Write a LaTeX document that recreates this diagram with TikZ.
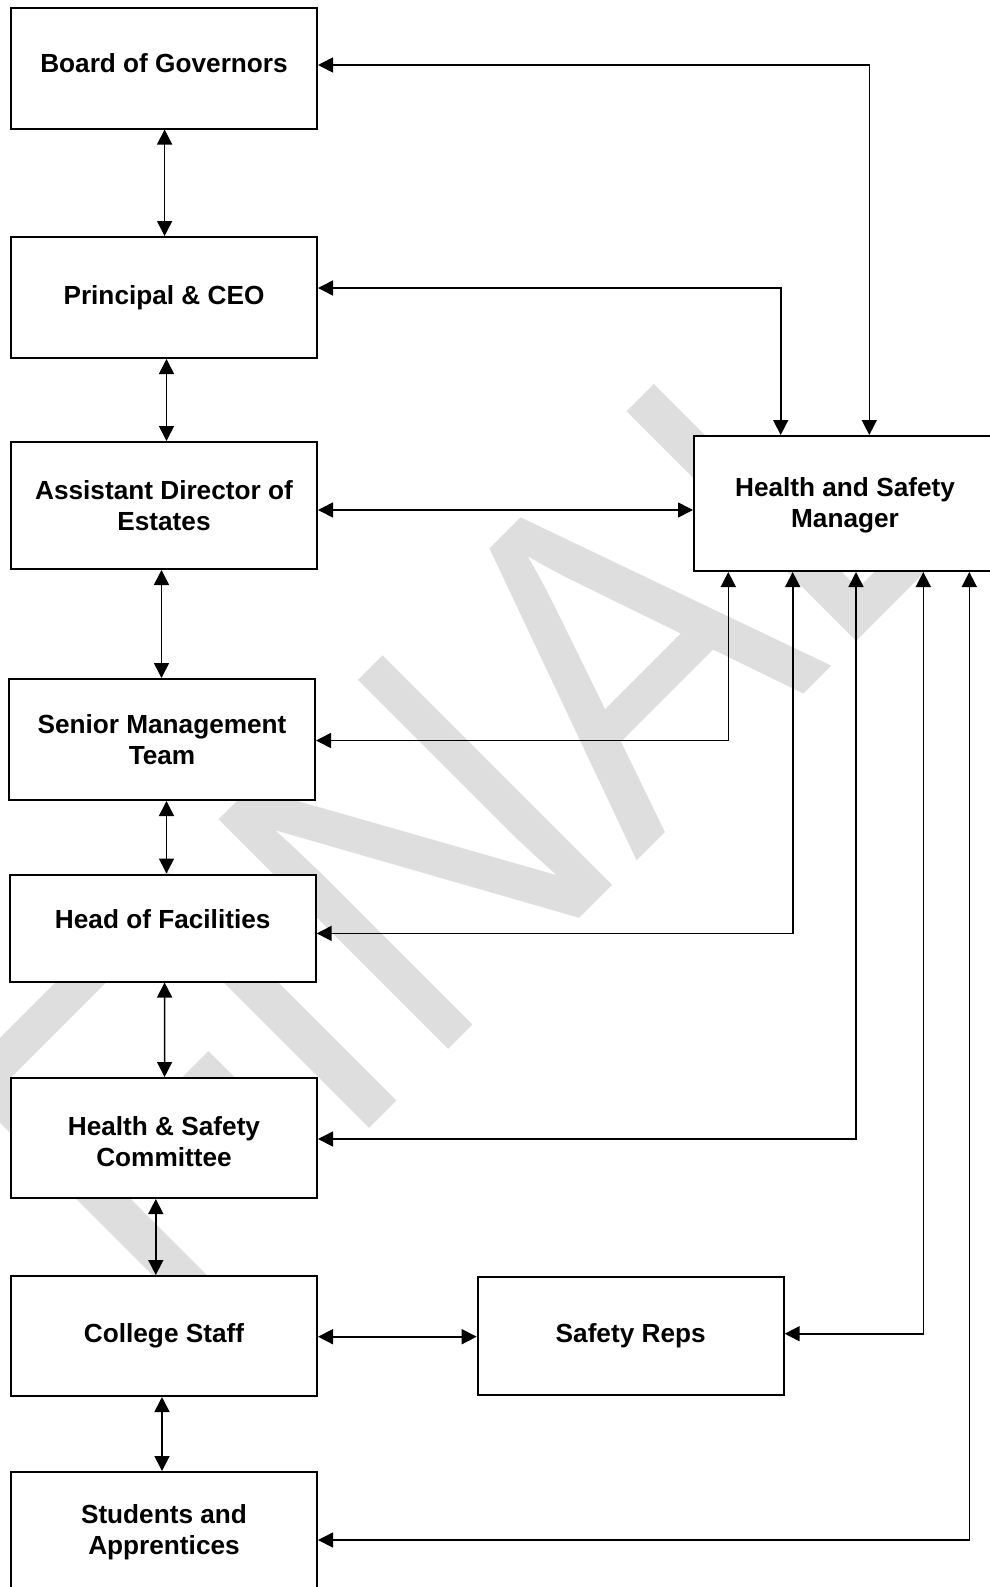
\documentclass[tikz,border=0pt]{standalone}
\usepackage{fontspec}
\setmainfont{Liberation Sans}
\usetikzlibrary{arrows.meta}
\definecolor{wmgray}{RGB}{222,222,222}
\begin{document}
\begin{tikzpicture}[x=1pt,y=-1pt,
  txt/.style={inner sep=0pt, align=center, font=\bfseries\fontsize{26.2}{30.5}\selectfont},
  box/.style={draw=black, line width=2pt, fill=white, rectangle,
    minimum width=306pt, minimum height=120pt, inner sep=2pt, align=center,
    font=\bfseries\fontsize{26.2}{30.5}\selectfont},
  link/.style={line width=1.6pt,
    {Triangle[length=15pt,width=15pt]}-{Triangle[length=15pt,width=15pt]}},
  wm/.style={text=wmgray, anchor=base west, inner sep=0pt, rotate=45, xscale=0.88,
    font=\fontsize{472}{480}\selectfont}]
\useasboundingbox (0,0) rectangle (989,1587);
\fill[white] (0,0) rectangle (989,1587);
% watermark
\node[wm] (wmark) at (163,1335) {FINAL};
% boxes
\node[box] (bog) at (164,68.5) {\raisebox{11pt}{Board of Governors}};
\node[box, minimum height=121pt] (pceo) at (164,297.5) {Principal \& CEO};
\node[box, minimum height=127pt] (ade) at (164,505.5) {Assistant Director of\\Estates};
\node[box, minimum width=302pt, minimum height=135pt,
  label={[txt,yshift=-2pt]center:{Health and Safety\\Manager}}] (hsm) at (845,503.5) {};
\node[box, minimum height=121pt] (smt) at (162,739.5) {Senior Management\\Team};
\node[box, minimum height=107pt] (hof) at (162.7,928) {\raisebox{18pt}{Head of Facilities}};
\node[box, label={[txt,yshift=-3.5pt]center:{Health \& Safety\\Committee}}] (hsc) at (164,1138) {};
\node[box] (cs) at (164,1336) {College Staff};
\node[box, minimum height=118pt] (sr) at (630.7,1336) {\raisebox{-6pt}{Safety Reps}};
\node[box, minimum height=130pt,
  label={[txt,yshift=5pt]center:{Students and\\Apprentices}}] (sa) at (164,1537) {};
% vertical chain
\draw[link] ([xshift=0.6pt]bog.south) -- ([xshift=0.6pt]pceo.north);
\draw[link] ([xshift=2.5pt]pceo.south) -- ([xshift=2.5pt]ade.north);
\draw[link] ([xshift=-2.5pt]ade.south) -- ([xshift=-0.5pt]smt.north);
\draw[link] ([xshift=4.5pt]smt.south) -- ([xshift=3.8pt]hof.north);
\draw[link] ([xshift=1.9pt]hof.south) -- ([xshift=0.6pt]hsc.north);
\draw[link] ([xshift=-8.2pt]hsc.south) -- ([xshift=-8.2pt]cs.north);
\draw[link] ([xshift=-2pt]cs.south) -- ([xshift=-2pt]sa.north);
% horizontal
\draw[link] ([yshift=-0.7pt]cs.east) -- ([yshift=-0.7pt]cs.east -| sr.west);
\draw[link] ([yshift=-4.5pt]ade.east) -- ([yshift=-4.5pt]ade.east -| hsm.west);
% from the Health and Safety Manager
\draw[link] ([xshift=24.3pt]hsm.north) |- ([yshift=3.5pt]bog.east);
\draw[link] ([xshift=-64.3pt]hsm.north) |- ([yshift=9.5pt]pceo.east);
\draw[link] ([xshift=-116.7pt]hsm.south) |- ([yshift=-1pt]smt.east);
\draw[link] ([xshift=-52.3pt]hsm.south) |- ([yshift=-5.4pt]hof.east);
\draw[link] ([xshift=11pt]hsm.south) |- ([yshift=-1pt]hsc.east);
\draw[link] ([xshift=78.3pt]hsm.south) |- ([yshift=2.3pt]sr.east);
\draw[link] ([xshift=124.3pt]hsm.south) |- ([yshift=-3pt]sa.east);
\end{tikzpicture}
\end{document}
